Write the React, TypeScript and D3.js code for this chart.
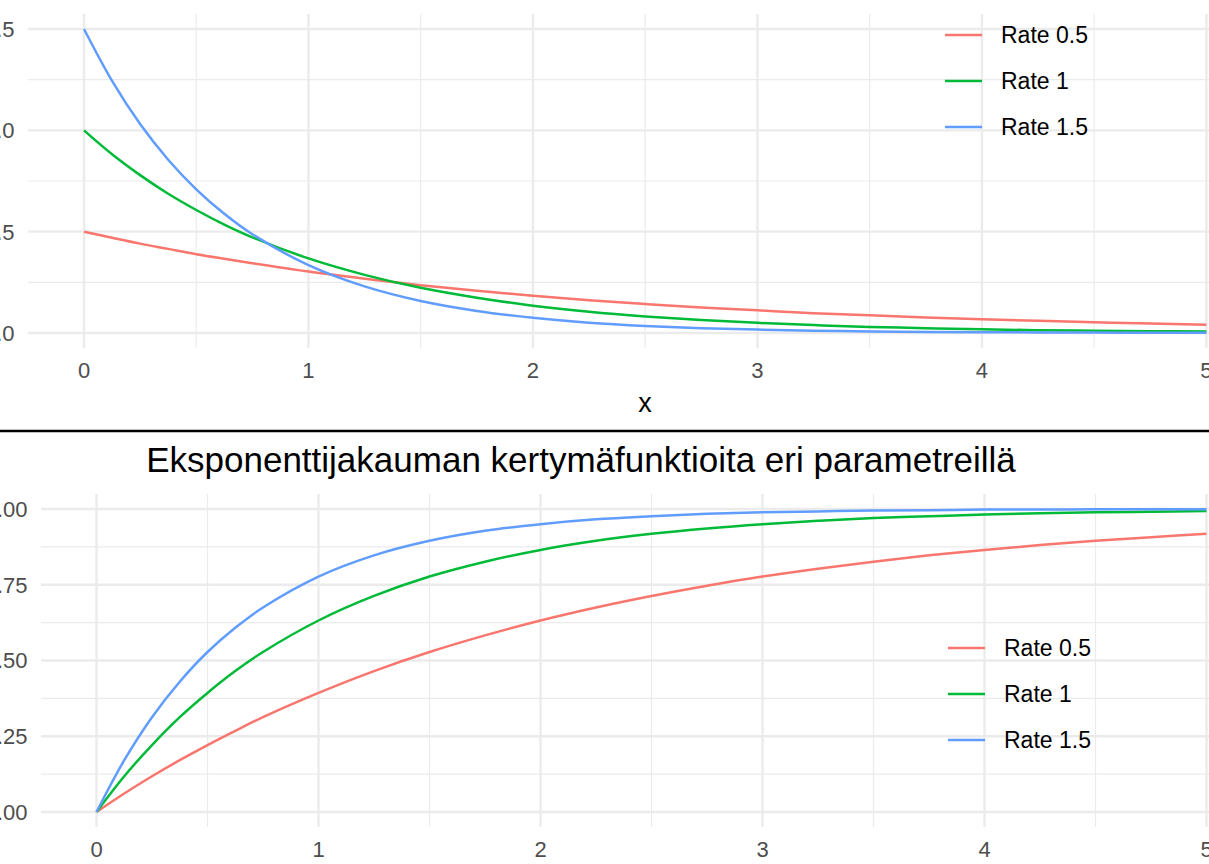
import * as d3 from "d3"

// x grid the curves were read at (denser near 0 where the curves bend most)
const xs = [0, 0.125, 0.25, 0.375, 0.5, 0.625, 0.75, 1, 1.25, 1.5, 1.75, 2, 2.25, 2.5, 2.75, 3, 3.25, 3.5, 3.75, 4, 4.25, 4.5, 4.75, 5]

const rates = ["Rate 0.5", "Rate 1", "Rate 1.5"]
const colors = ["#F8766D", "#00BA38", "#619CFF"]

// density values (top panel)
const pdf05 = [0.5, 0.47, 0.441, 0.415, 0.389, 0.366, 0.344, 0.303, 0.268, 0.236, 0.208, 0.184, 0.162, 0.143, 0.126, 0.112, 0.098, 0.087, 0.077, 0.068, 0.06, 0.053, 0.047, 0.041]
const pdf1 = [1.0, 0.882, 0.779, 0.687, 0.607, 0.535, 0.472, 0.368, 0.287, 0.223, 0.174, 0.135, 0.105, 0.082, 0.064, 0.05, 0.039, 0.03, 0.024, 0.018, 0.014, 0.011, 0.009, 0.007]
const pdf15 = [1.5, 1.244, 1.031, 0.855, 0.709, 0.588, 0.487, 0.335, 0.23, 0.158, 0.109, 0.075, 0.051, 0.035, 0.024, 0.017, 0.011, 0.008, 0.005, 0.004, 0.003, 0.002, 0.001, 0.001]

// cumulative values (bottom panel)
const cdf05 = [0, 0.061, 0.118, 0.171, 0.221, 0.268, 0.313, 0.393, 0.465, 0.528, 0.583, 0.632, 0.675, 0.713, 0.747, 0.777, 0.803, 0.826, 0.847, 0.865, 0.881, 0.895, 0.907, 0.918]
const cdf1 = [0, 0.118, 0.221, 0.313, 0.393, 0.465, 0.528, 0.632, 0.713, 0.777, 0.826, 0.865, 0.895, 0.918, 0.936, 0.95, 0.961, 0.97, 0.976, 0.982, 0.986, 0.989, 0.991, 0.993]
const cdf15 = [0, 0.171, 0.313, 0.43, 0.528, 0.608, 0.675, 0.777, 0.847, 0.895, 0.928, 0.95, 0.966, 0.976, 0.984, 0.989, 0.992, 0.995, 0.996, 0.998, 0.998, 0.999, 0.999, 0.999]

const xTicks = [0, 1, 2, 3, 4, 5]
const xMinor = [0.5, 1.5, 2.5, 3.5, 4.5]
const topYTicks = [0, 0.5, 1, 1.5]
const topYMinor = [0.25, 0.75, 1.25]
const botYTicks = [0, 0.25, 0.5, 0.75, 1]
const botYMinor = [0.125, 0.375, 0.625, 0.875]

const title = "Eksponenttijakauman kertymäfunktioita eri parametreillä"

const W = 1209
const H = 864
const font = "'Liberation Sans', Arial, Helvetica, sans-serif"
const gridCol = "#EBEBEB"
const tickCol = "#4D4D4D"

interface PanelProps {
  series: number[][]
  x: d3.ScaleLinear<number, number>
  y: d3.ScaleLinear<number, number>
  yTicks: number[]
  yMinor: number[]
  yFmt: (v: number) => string
  box: { left: number; right: number; top: number; bottom: number }
  legendX: number
  legendY: number
}

function Panel({ series, x, y, yTicks, yMinor, yFmt, box, legendX, legendY }: PanelProps) {
  const line = d3
    .line<number>()
    .x((_, i) => x(xs[i]))
    .y((d) => y(d))
    .curve(d3.curveCatmullRom.alpha(0.5))

  return (
    <g>
      {/* minor grid */}
      {yMinor.map((v) => (
        <line key={"ym" + v} x1={box.left} x2={box.right} y1={y(v)} y2={y(v)} stroke={gridCol} strokeWidth={1.2} />
      ))}
      {xMinor.map((v) => (
        <line key={"xm" + v} x1={x(v)} x2={x(v)} y1={box.top} y2={box.bottom} stroke={gridCol} strokeWidth={1.2} />
      ))}
      {/* major grid */}
      {yTicks.map((v) => (
        <line key={"yM" + v} x1={box.left} x2={box.right} y1={y(v)} y2={y(v)} stroke={gridCol} strokeWidth={2.4} />
      ))}
      {xTicks.map((v) => (
        <line key={"xM" + v} x1={x(v)} x2={x(v)} y1={box.top} y2={box.bottom} stroke={gridCol} strokeWidth={2.4} />
      ))}

      {/* curves */}
      {series.map((s, i) => (
        <path key={rates[i]} d={line(s) ?? ""} fill="none" stroke={colors[i]} strokeWidth={2.5} />
      ))}

      {/* y tick labels */}
      {yTicks.map((v) => (
        <text
          key={"yl" + v}
          x={box.left - 13.5}
          y={y(v)}
          dy="0.36em"
          textAnchor="end"
          fontSize={22}
          fill={tickCol}
          fontFamily={font}
        >
          {yFmt(v)}
        </text>
      ))}
      {/* x tick labels */}
      {xTicks.map((v) => (
        <text key={"xl" + v} x={x(v)} y={box.bottom + 30} textAnchor="middle" fontSize={22} fill={tickCol} fontFamily={font}>
          {v}
        </text>
      ))}

      {/* legend */}
      {rates.map((r, i) => (
        <g key={"lg" + r} transform={`translate(${legendX},${legendY + i * 46})`}>
          <line x1={0} x2={37} y1={0} y2={0} stroke={colors[i]} strokeWidth={2.5} />
          <text x={56} y={0} dy="0.36em" fontSize={23} fill="#000" fontFamily={font}>
            {r}
          </text>
        </g>
      ))}
    </g>
  )
}

export default function App() {
  // top panel: densities
  const xTop = d3.scaleLinear().domain([0, 5]).range([84, 1206.4])
  const yTop = d3.scaleLinear().domain([0, 1.5]).range([333, 29])
  // bottom panel: cumulative distribution
  const xBot = d3.scaleLinear().domain([0, 5]).range([96.5, 1206.5])
  const yBot = d3.scaleLinear().domain([0, 1]).range([812, 509])

  return (
    <svg
      width={W}
      height={H}
      viewBox={`0 0 ${W} ${H}`}
      style={{ position: "absolute", left: 0, top: 0, background: "#fff" }}
    >
      <rect x={0} y={0} width={W} height={H} fill="#fff" />

      <Panel
        series={[pdf05, pdf1, pdf15]}
        x={xTop}
        y={yTop}
        yTicks={topYTicks}
        yMinor={topYMinor}
        yFmt={d3.format(".1f")}
        box={{ left: 28, right: 1262, top: 14, bottom: 348 }}
        legendX={945}
        legendY={35}
      />
      <text x={645} y={412} textAnchor="middle" fontSize={27} fill="#000" fontFamily={font}>
        x
      </text>

      <line x1={0} x2={W} y1={431} y2={431} stroke="#000" strokeWidth={2.5} />

      <text x={581} y={472} textAnchor="middle" fontSize={35} fill="#000" fontFamily={font}>
        {title}
      </text>
      <Panel
        series={[cdf05, cdf1, cdf15]}
        x={xBot}
        y={yBot}
        yTicks={botYTicks}
        yMinor={botYMinor}
        yFmt={d3.format(".2f")}
        box={{ left: 41, right: 1262, top: 494, bottom: 827 }}
        legendX={948}
        legendY={648}
      />
    </svg>
  )
}
